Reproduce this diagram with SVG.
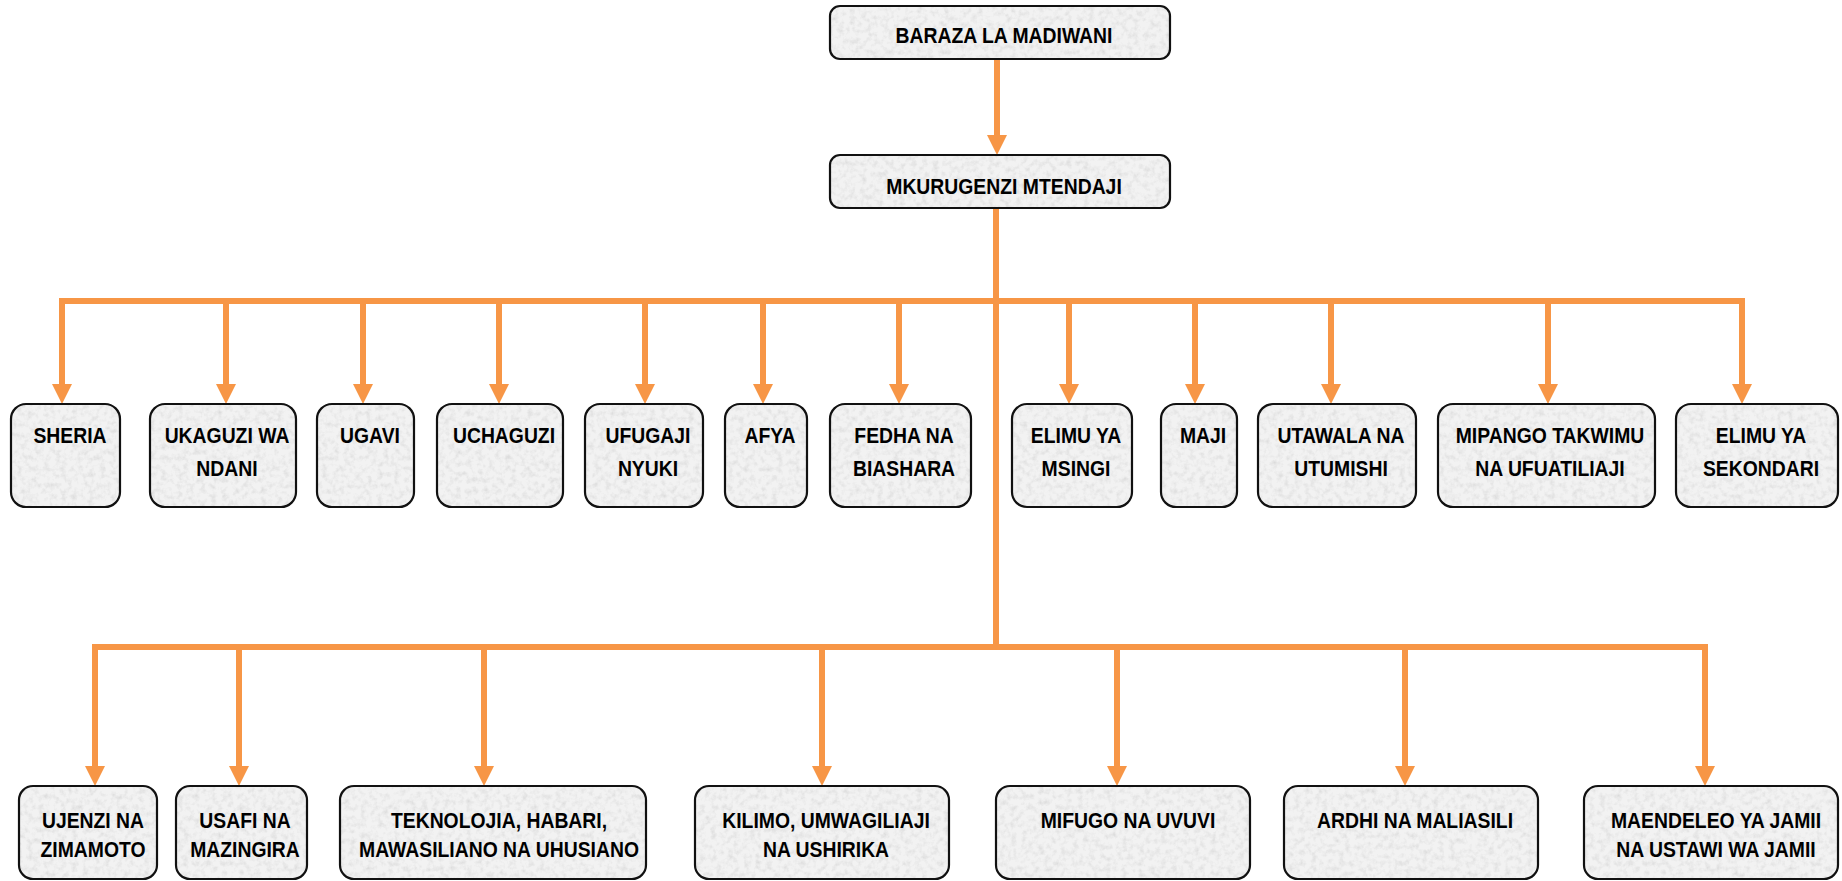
<svg xmlns="http://www.w3.org/2000/svg" width="1842" height="881" viewBox="0 0 1842 881">
<defs>
<style>
.bg{fill:#f2f2f2;stroke:none;filter:url(#granite)}
.bd{fill:none;stroke:#111;stroke-width:2.2}
text{font-family:"Liberation Sans",Arial,sans-serif;font-weight:bold;font-size:22px;fill:#000;text-anchor:middle}
.conn{stroke:#F79646;stroke-width:6;fill:none}
</style>
<filter id="granite" x="0" y="0" width="100%" height="100%">
<feTurbulence type="fractalNoise" baseFrequency="0.18" numOctaves="3" seed="7" result="t"/>
<feColorMatrix in="t" type="matrix" values="0 0 0 0 0.62 0 0 0 0 0.62 0 0 0 0 0.62 0 0 0 1.3 -0.58" result="spots"/>
<feComposite in="spots" in2="SourceAlpha" operator="in" result="clip"/>
<feMerge><feMergeNode in="SourceGraphic"/><feMergeNode in="clip"/></feMerge>
</filter>
<marker id="ah" viewBox="0 0 20 20" markerWidth="20" markerHeight="20" markerUnits="userSpaceOnUse" refX="0" refY="10" orient="auto">
<path d="M0,0 L20,10 L0,20 Z" fill="#F79646"/>
</marker>
</defs>

<g id="connectors">
<path class="conn" d="M997,59 V135" marker-end="url(#ah)"/>
<path class="conn" d="M996,208 V650"/>
<path class="conn" d="M59,301 H1745"/>
<path class="conn" d="M62,298 V384" marker-end="url(#ah)"/>
<path class="conn" d="M226,301 V384" marker-end="url(#ah)"/>
<path class="conn" d="M363,301 V384" marker-end="url(#ah)"/>
<path class="conn" d="M499,301 V384" marker-end="url(#ah)"/>
<path class="conn" d="M645,301 V384" marker-end="url(#ah)"/>
<path class="conn" d="M763,301 V384" marker-end="url(#ah)"/>
<path class="conn" d="M899,301 V384" marker-end="url(#ah)"/>
<path class="conn" d="M1069,301 V384" marker-end="url(#ah)"/>
<path class="conn" d="M1195,301 V384" marker-end="url(#ah)"/>
<path class="conn" d="M1331,301 V384" marker-end="url(#ah)"/>
<path class="conn" d="M1548,301 V384" marker-end="url(#ah)"/>
<path class="conn" d="M1742,298 V384" marker-end="url(#ah)"/>
<path class="conn" d="M92,647 H1708"/>
<path class="conn" d="M95,644 V766" marker-end="url(#ah)"/>
<path class="conn" d="M239,647 V766" marker-end="url(#ah)"/>
<path class="conn" d="M484,647 V766" marker-end="url(#ah)"/>
<path class="conn" d="M822,647 V766" marker-end="url(#ah)"/>
<path class="conn" d="M1117,647 V766" marker-end="url(#ah)"/>
<path class="conn" d="M1405,647 V766" marker-end="url(#ah)"/>
<path class="conn" d="M1705,644 V766" marker-end="url(#ah)"/>
</g>

<g id="baraza"><rect class="bg" x="830" y="6" width="340" height="53" rx="10"/><rect class="bd" x="830" y="6" width="340" height="53" rx="10"/>
<text transform="translate(1004 0) scale(0.88 1)" x="0" y="43">BARAZA LA MADIWANI</text></g>
<g id="mkurugenzi"><rect class="bg" x="830" y="155" width="340" height="53" rx="10"/><rect class="bd" x="830" y="155" width="340" height="53" rx="10"/>
<text transform="translate(1004 0) scale(0.88 1)" x="0" y="194">MKURUGENZI MTENDAJI</text></g>

<g id="sheria"><rect class="bg" x="11" y="404" width="109" height="103" rx="15"/><rect class="bd" x="11" y="404" width="109" height="103" rx="15"/>
<text transform="translate(70 0) scale(0.88 1)" x="0" y="443">SHERIA</text></g>
<g id="ukaguzi"><rect class="bg" x="150" y="404" width="146" height="103" rx="15"/><rect class="bd" x="150" y="404" width="146" height="103" rx="15"/>
<text transform="translate(227 0) scale(0.88 1)"><tspan x="0" y="443">UKAGUZI WA</tspan><tspan x="0" y="476">NDANI</tspan></text></g>
<g id="ugavi"><rect class="bg" x="317" y="404" width="97" height="103" rx="15"/><rect class="bd" x="317" y="404" width="97" height="103" rx="15"/>
<text transform="translate(370 0) scale(0.88 1)" x="0" y="443">UGAVI</text></g>
<g id="uchaguzi"><rect class="bg" x="437" y="404" width="126" height="103" rx="15"/><rect class="bd" x="437" y="404" width="126" height="103" rx="15"/>
<text transform="translate(504 0) scale(0.88 1)" x="0" y="443">UCHAGUZI</text></g>
<g id="ufugaji"><rect class="bg" x="585" y="404" width="118" height="103" rx="15"/><rect class="bd" x="585" y="404" width="118" height="103" rx="15"/>
<text transform="translate(648 0) scale(0.88 1)"><tspan x="0" y="443">UFUGAJI</tspan><tspan x="0" y="476">NYUKI</tspan></text></g>
<g id="afya"><rect class="bg" x="725" y="404" width="82" height="103" rx="15"/><rect class="bd" x="725" y="404" width="82" height="103" rx="15"/>
<text transform="translate(770 0) scale(0.88 1)" x="0" y="443">AFYA</text></g>
<g id="fedha"><rect class="bg" x="830" y="404" width="141" height="103" rx="15"/><rect class="bd" x="830" y="404" width="141" height="103" rx="15"/>
<text transform="translate(904 0) scale(0.88 1)"><tspan x="0" y="443">FEDHA NA</tspan><tspan x="0" y="476">BIASHARA</tspan></text></g>
<g id="elimu-msingi"><rect class="bg" x="1012" y="404" width="120" height="103" rx="15"/><rect class="bd" x="1012" y="404" width="120" height="103" rx="15"/>
<text transform="translate(1076 0) scale(0.88 1)"><tspan x="0" y="443">ELIMU YA</tspan><tspan x="0" y="476">MSINGI</tspan></text></g>
<g id="maji"><rect class="bg" x="1161" y="404" width="76" height="103" rx="15"/><rect class="bd" x="1161" y="404" width="76" height="103" rx="15"/>
<text transform="translate(1203 0) scale(0.88 1)" x="0" y="443">MAJI</text></g>
<g id="utawala"><rect class="bg" x="1258" y="404" width="158" height="103" rx="15"/><rect class="bd" x="1258" y="404" width="158" height="103" rx="15"/>
<text transform="translate(1341 0) scale(0.88 1)"><tspan x="0" y="443">UTAWALA NA</tspan><tspan x="0" y="476">UTUMISHI</tspan></text></g>
<g id="mipango"><rect class="bg" x="1438" y="404" width="217" height="103" rx="15"/><rect class="bd" x="1438" y="404" width="217" height="103" rx="15"/>
<text transform="translate(1550 0) scale(0.88 1)"><tspan x="0" y="443">MIPANGO TAKWIMU</tspan><tspan x="0" y="476">NA UFUATILIAJI</tspan></text></g>
<g id="elimu-sekondari"><rect class="bg" x="1676" y="404" width="162" height="103" rx="15"/><rect class="bd" x="1676" y="404" width="162" height="103" rx="15"/>
<text transform="translate(1761 0) scale(0.88 1)"><tspan x="0" y="443">ELIMU YA</tspan><tspan x="0" y="476">SEKONDARI</tspan></text></g>

<g id="ujenzi"><rect class="bg" x="19" y="786" width="138" height="93" rx="14"/><rect class="bd" x="19" y="786" width="138" height="93" rx="14"/>
<text transform="translate(93 0) scale(0.88 1)"><tspan x="0" y="828">UJENZI NA</tspan><tspan x="0" y="857">ZIMAMOTO</tspan></text></g>
<g id="usafi"><rect class="bg" x="176" y="786" width="131" height="93" rx="14"/><rect class="bd" x="176" y="786" width="131" height="93" rx="14"/>
<text transform="translate(245 0) scale(0.88 1)"><tspan x="0" y="828">USAFI NA</tspan><tspan x="0" y="857">MAZINGIRA</tspan></text></g>
<g id="teknolojia"><rect class="bg" x="340" y="786" width="306" height="93" rx="14"/><rect class="bd" x="340" y="786" width="306" height="93" rx="14"/>
<text transform="translate(499 0) scale(0.88 1)"><tspan x="0" y="828">TEKNOLOJIA, HABARI,</tspan><tspan x="0" y="857">MAWASILIANO NA UHUSIANO</tspan></text></g>
<g id="kilimo"><rect class="bg" x="695" y="786" width="254" height="93" rx="14"/><rect class="bd" x="695" y="786" width="254" height="93" rx="14"/>
<text transform="translate(826 0) scale(0.88 1)"><tspan x="0" y="828">KILIMO, UMWAGILIAJI</tspan><tspan x="0" y="857">NA USHIRIKA</tspan></text></g>
<g id="mifugo"><rect class="bg" x="996" y="786" width="254" height="93" rx="14"/><rect class="bd" x="996" y="786" width="254" height="93" rx="14"/>
<text transform="translate(1128 0) scale(0.88 1)" x="0" y="828">MIFUGO NA UVUVI</text></g>
<g id="ardhi"><rect class="bg" x="1284" y="786" width="254" height="93" rx="14"/><rect class="bd" x="1284" y="786" width="254" height="93" rx="14"/>
<text transform="translate(1415 0) scale(0.88 1)" x="0" y="828">ARDHI NA MALIASILI</text></g>
<g id="maendeleo"><rect class="bg" x="1584" y="786" width="254" height="93" rx="14"/><rect class="bd" x="1584" y="786" width="254" height="93" rx="14"/>
<text transform="translate(1716 0) scale(0.88 1)"><tspan x="0" y="828">MAENDELEO YA JAMII</tspan><tspan x="0" y="857">NA USTAWI WA JAMII</tspan></text></g>
</svg>
